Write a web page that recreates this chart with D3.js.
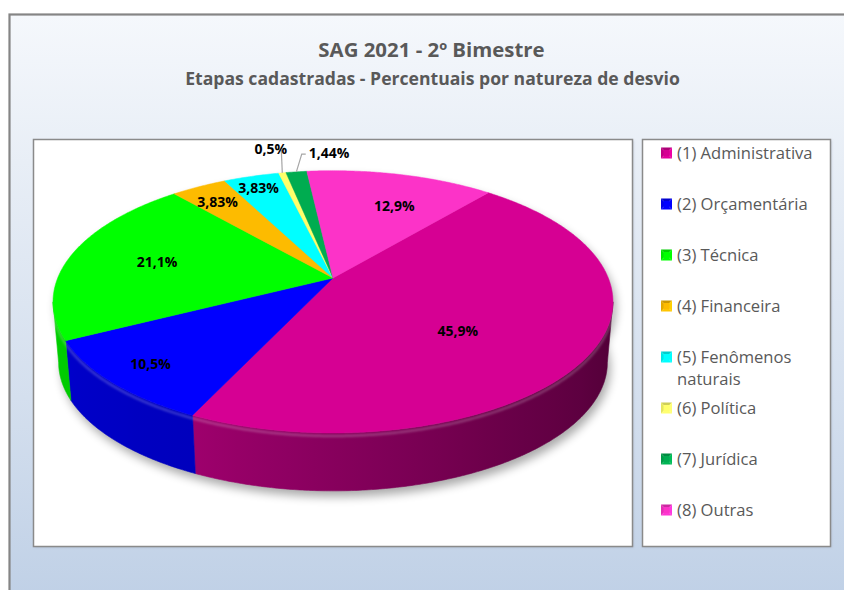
<!DOCTYPE html>
<html><head><meta charset="utf-8">
<script src="https://cdn.jsdelivr.net/npm/d3@7"></script>
<style>body{margin:0;background:#fff}svg{display:block}</style>
</head><body>
<svg id="c" width="844" height="590"></svg>
<script>
const title = "SAG 2021 - 2º Bimestre";
const subtitle = "Etapas cadastradas - Percentuais por natureza de desvio";
const categories = ["(1) Administrativa","(2) Orçamentária","(3) Técnica","(4) Financeira","(5) Fenômenos naturais","(6) Política","(7) Jurídica","(8) Outras"];
const values = [45.9, 10.5, 21.1, 3.83, 3.83, 0.5, 1.44, 12.9];
const colors = ["#d60093","#0000ff","#00ff00","#fdbb00","#00ffff","#ffff6a","#00ac50","#fc33c8"];
// label layout (radius fraction of the pie, angular nudge in degrees)
const labelRadius = [0.573, 0.846, 0.667, 0.82, 0.873, 1.28, 1.2, 0.68];
const labelTurn = [10, 0, 0.3, -0.9, -0.5, 0, 8.2, 4.6];
const firstSliceAngle = 40;

const FONT = "'Open Sans', Lato, sans-serif";
const svg = d3.select("#c");
const defs = svg.append("defs");

// background
const bg = defs.append("linearGradient").attr("id","bg").attr("x1",0).attr("y1",0).attr("x2",0).attr("y2",1);
[[0,"#f5f8fc"],[0.25,"#e8eef6"],[0.65,"#d4dfee"],[1,"#bfd0e6"]].forEach(s=>bg.append("stop").attr("offset",s[0]).attr("stop-color",s[1]));
svg.append("rect").attr("x",9.5).attr("y",14.5).attr("width",850).attr("height",590).attr("fill","url(#bg)").attr("stroke","#858585").attr("stroke-width",2.2);

// titles
svg.append("text").attr("x",431.5).attr("y",56.5).attr("text-anchor","middle").attr("font-family",FONT).attr("font-weight","bold").attr("font-size",20.4).attr("fill","#595959").text(title);
svg.append("text").attr("x",432.5).attr("y",84.5).attr("text-anchor","middle").attr("font-family",FONT).attr("font-weight","bold").attr("font-size",17.6).attr("fill","#595959").text(subtitle);

// boxes
const boxShadow = defs.append("filter").attr("id","bs").attr("x","-5%").attr("y","-5%").attr("width","110%").attr("height","110%");
boxShadow.append("feGaussianBlur").attr("stdDeviation",1);
[[33.5,139.5,599,407],[642.5,139.5,188,407]].forEach(b=>{
  svg.append("rect").attr("x",b[0]+1).attr("y",b[1]+1).attr("width",b[2]).attr("height",b[3]).attr("fill","#9aa6b6").attr("opacity",0.5).attr("filter","url(#bs)");
  svg.append("rect").attr("x",b[0]).attr("y",b[1]).attr("width",b[2]).attr("height",b[3]).attr("fill","#fff").attr("stroke","#8a8a8a").attr("stroke-width",1.5);
});

// pie geometry (perspective projection of a tilted disc)
const P = {cx:333, cy:278, A:275.3, B:126.8, K:0.1818, depth:61, s:0.98};
const topPt = (phi,r)=>{const X=r*Math.sin(phi), Z=r*Math.cos(phi), t=1+P.K*Z; return [P.cx+P.A*X/t, P.cy-P.B*Z/t];};
const botPt = (phi)=>{const X=Math.sin(phi), Z=Math.cos(phi), t=1+P.K*Z; return [P.cx+P.s*P.A*X/t, P.cy+P.depth-P.s*P.B*Z/t];};
const arcPts = (a,b,f)=>{const n=Math.max(2,Math.ceil(Math.abs(b-a)/(Math.PI/360))); return d3.range(n+1).map(i=>f(a+(b-a)*i/n));};
const line = d3.line();
const rad = d=>d*Math.PI/180;

const a0 = rad(firstSliceAngle);
const pie = d3.pie().sort(null).value(d=>d).startAngle(a0).endAngle(a0+2*Math.PI);
const arcs = pie(values);

// shadow
const sh = defs.append("filter").attr("id","sh").attr("x","-20%").attr("y","-20%").attr("width","140%").attr("height","140%");
sh.append("feGaussianBlur").attr("stdDeviation",5);
svg.append("g").attr("transform","translate(3,6)").attr("filter","url(#sh)").attr("opacity",0.33)
  .selectAll("path").data([topPt,(p)=>botPt(p)]).join("path")
  .attr("d",f=>line(arcPts(0,2*Math.PI,p=>f(p,1)))+"Z").attr("fill","#000");

// sides (front part only)
const sideLo = Math.PI/2+Math.asin(P.K), sideHi = 3*Math.PI/2-Math.asin(P.K);
const shade = d3.scaleLinear().domain([rad(100),rad(150),rad(205),rad(260)]).range([0.36,0.5,0.74,0.82]).clamp(true);
const sideG = svg.append("g");
arcs.forEach((d,i)=>{
  [0,-2*Math.PI,2*Math.PI].forEach(off=>{
    const a=Math.max(d.startAngle+off,sideLo), b=Math.min(d.endAngle+off,sideHi);
    if(b<=a) return;
    const tp = arcPts(a,b,p=>topPt(p,1)), bp = arcPts(b,a,botPt);
    const xs = tp.map(p=>p[0]).concat(bp.map(p=>p[0]));
    const x1=d3.min(xs), x2=d3.max(xs);
    const gid="sg"+i+"_"+(off<0?"m":off>0?"p":"z");
    const g=defs.append("linearGradient").attr("id",gid).attr("gradientUnits","userSpaceOnUse").attr("x1",x1).attr("x2",x2).attr("y1",0).attr("y2",0);
    const base=d3.rgb(colors[i]);
    const samples=d3.range(13).map(k=>a+(b-a)*k/12).map(p=>({x:topPt(p,1)[0],f:shade(p)})).sort((u,v)=>u.x-v.x);
    samples.forEach(s=>g.append("stop").attr("offset",x2>x1?(s.x-x1)/(x2-x1):0)
      .attr("stop-color",d3.rgb(base.r*s.f,base.g*s.f,base.b*s.f).formatHex()));
    sideG.append("path").attr("d",line(tp.concat(bp))+"Z").attr("fill","url(#"+gid+")").attr("stroke","url(#"+gid+")").attr("stroke-width",0.6);
  });
});
// soft highlight along the rim
const hl = defs.append("filter").attr("id","hl"); hl.append("feGaussianBlur").attr("stdDeviation",1.2);
svg.append("path").attr("d",line(arcPts(sideLo,sideHi,p=>{const q=topPt(p,1);return [q[0],q[1]+3];})))
  .attr("fill","none").attr("stroke","#fff").attr("stroke-opacity",0.22).attr("stroke-width",2.5).attr("filter","url(#hl)");

// top faces
svg.append("g").selectAll("path").data(arcs).join("path")
  .attr("d",d=>line([[P.cx,P.cy]].concat(arcPts(d.startAngle,d.endAngle,p=>topPt(p,1))))+"Z")
  .attr("fill",(d,i)=>colors[i]).attr("stroke",(d,i)=>colors[i]).attr("stroke-width",0.5).attr("stroke-linejoin","round");

// labels
const fmt = v=>String(v).replace(".",",")+"%";
const lg = svg.append("g");
arcs.forEach((d,i)=>{
  const mid=(d.startAngle+d.endAngle)/2;
  const pos=topPt(mid+rad(labelTurn[i]),labelRadius[i]);
  const t=lg.append("text").attr("x",pos[0]).attr("y",pos[1]).attr("text-anchor","middle").attr("dy","0.35em")
    .attr("font-family",FONT).attr("font-weight","bold").attr("font-size",14).attr("fill","#000").text(fmt(values[i]));
  if(labelRadius[i]>1){
    const w=t.node().getComputedTextLength();
    const e=topPt(mid,1);
    const left=pos[0]-w/2;
    let pts;
    if(e[0]<left-2) pts=[e,[left-7,pos[1]+1],[left-3,pos[1]+1]];
    else pts=[e,[e[0]-1,pos[1]+1]];
    lg.insert("path","text").attr("d",line(pts)).attr("fill","none").attr("stroke","#a6a6a6").attr("stroke-width",1.2);
  }
});

// legend
const leg = svg.append("g");
categories.forEach((c,i)=>{
  const y=153+51*i;
  const base=d3.rgb(colors[i]);
  const x0=661, s=11, yy=y-5.5;
  const tri=(pts,col)=>leg.append("path").attr("d",line(pts)+"Z").attr("fill",col);
  const c0=[x0+s/2,yy+s/2];
  tri([[x0,yy],[x0+s,yy],c0],base.darker(0.6));
  tri([[x0,yy],[x0,yy+s],c0],base.darker(0.3));
  tri([[x0+s,yy],[x0+s,yy+s],c0],base.brighter(0.3));
  tri([[x0,yy+s],[x0+s,yy+s],c0],base.brighter(0.15));
  leg.append("rect").attr("x",x0+2.5).attr("y",yy+2.5).attr("width",s-5).attr("height",s-5).attr("fill",base.formatHex());
  const t=leg.append("text").attr("x",677).attr("y",y).attr("font-family",FONT).attr("font-size",16.6).attr("fill","#595959");
  const words=c.split(" "); let lineWords=[];
  let tspan=t.append("tspan").attr("x",677).attr("dy","0.35em");
  words.forEach(w=>{
    lineWords.push(w); tspan.text(lineWords.join(" "));
    if(tspan.node().getComputedTextLength()>148 && lineWords.length>2){
      lineWords.pop(); tspan.text(lineWords.join(" ")); lineWords=[w];
      tspan=t.append("tspan").attr("x",677).attr("dy","22.5").text(w);
    }
  });
});
</script>
</body></html>
